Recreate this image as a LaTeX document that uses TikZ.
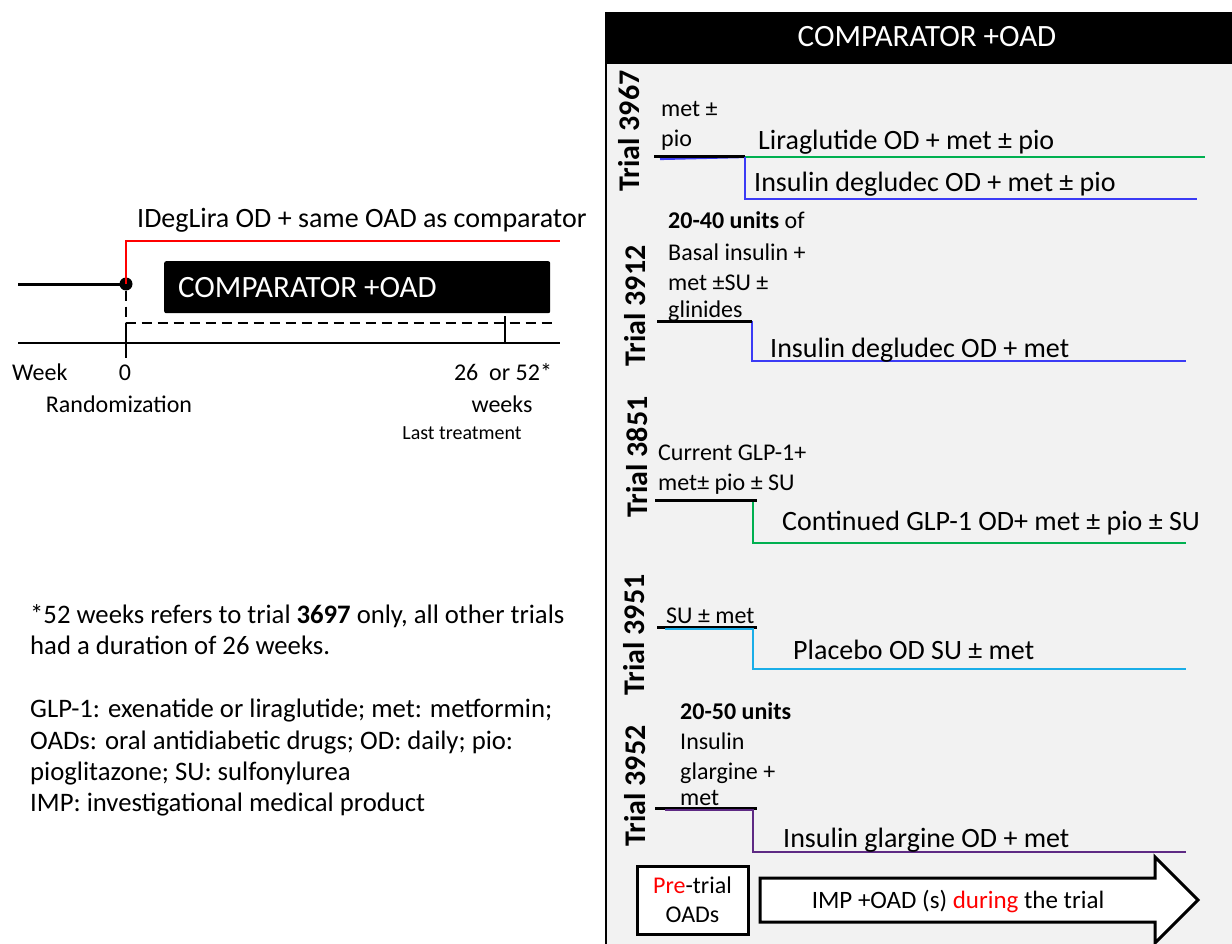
\documentclass[tikz,border=0pt]{standalone}
\usepackage{fontspec}
\setmainfont{Carlito}
\definecolor{panelgray}{HTML}{F2F2F2}
\definecolor{tgreen}{HTML}{00B050}
\definecolor{tblue}{HTML}{3B3BF5}
\definecolor{tcyan}{HTML}{1AAEE8}
\definecolor{tpurple}{HTML}{5E2A84}
\begin{document}
\begin{tikzpicture}[x=1pt,y=-1pt,
  t/.style={anchor=west,inner sep=0pt,text height=0.65em,text depth=0pt,yshift=-5pt},
  tc/.style={anchor=center,inner sep=0pt,text height=0.65em,text depth=0pt,yshift=-5pt},
  f20/.style={font=\fontsize{20}{24}\selectfont},
  f24/.style={font=\fontsize{24}{29}\selectfont},
  f26/.style={font=\fontsize{26.7}{31}\selectfont},
  f28/.style={font=\fontsize{28}{33}\selectfont},
  f30/.style={font=\fontsize{31}{36}\selectfont},
  trial/.style={rotate=90,inner sep=0pt,text height=0.65em,text depth=0pt,font=\bfseries\fontsize{30}{36}\selectfont},
  pre/.style={line width=3pt,black},
  stepline/.style={line width=2.2pt}]
\path[use as bounding box] (0,0) rectangle (1232,944);
\fill[white] (0,0) rectangle (1232,944);

% ---------------- left timeline ----------------
\node[t,f28] (title) at (137,219) {IDegLira OD + same OAD as comparator};
\node[circle,fill=black,minimum size=13pt,inner sep=0pt] (rand) at (126,284) {};
\coordinate (start) at (18,284);
\coordinate (redup) at (126,241);
\coordinate (redend) at (560,241);
\draw[line width=3pt] (start) -- (rand.center);
\draw[red,line width=2.5pt] (rand.center) -- (redup) -- (redend);
\node[fill=black,rounded corners=2pt,anchor=north west,inner sep=0pt,minimum width=386pt,minimum height=52pt] (cbox) at (164,261) {};
\node[t,f30,text=white] (ctext) at (178,289) {COMPARATOR +OAD};
\coordinate (dcorner) at (126,323);
\coordinate (dend) at (556,323);
\draw[line width=2pt,dash pattern=on 10pt off 6pt] (rand.south) -- (dcorner) -- (dend);
\coordinate (ax0) at (18,343);
\coordinate (ax1) at (560,343);
\draw[line width=1.2pt] (ax0) -- (ax1);
\coordinate (tk0a) at (126,323);
\coordinate (tk0b) at (126,358);
\draw[line width=1.2pt] (tk0a) -- (tk0b);
\coordinate (tk1a) at (505,316);
\coordinate (tk1b) at (505,343);
\draw[line width=1.2pt] (tk1a) -- (tk1b);
\node[t,f24] (week) at (12,372) {Week};
\node[tc,f24] (zero) at (125,372) {0};
\node[tc,f24] (randlbl) at (119,404) {Randomization};
\node[tc,f24] (w26) at (503,372) {26\ \ or 52*};
\node[tc,f24] (weeks) at (502,404) {weeks};
\node[tc,f20] (last) at (462,431) {Last treatment};

% ---------------- footnotes ----------------
\node[t,f26] (n1) at (30,615) {*52 weeks refers to trial \textbf{3697} only, all other trials};
\node[t,f26] (n2) at (30,646) {had a duration of 26 weeks.};
\node[t,f26] (n3) at (30,709) {GLP-1: exenatide or liraglutide; met: metformin;};
\node[t,f26] (n4) at (30,741) {OADs: oral antidiabetic drugs; OD: daily; pio:};
\node[t,f26] (n5) at (30,772) {pioglitazone; SU: sulfonylurea};
\node[t,f26] (n6) at (30,803) {IMP: investigational medical product};

% ---------------- right panel ----------------
\fill[panelgray] (606,64) rectangle (1232,944);
\node[fill=black,anchor=north west,inner sep=0pt,minimum width=627pt,minimum height=52pt] (head) at (605,12) {};
\node[tc,f30,text=white] (headtext) at (927,38) {COMPARATOR +OAD};
\draw[line width=1.5pt] (606,12) -- (606,944);

% Trial 3967
\node[trial] (tr1) at (636,131) {Trial 3967};
\node[t,f24] (a1) at (661,108) {met ±};
\node[t,f24] (a2) at (661,138) {pio};
\coordinate (p1a) at (654,157); \coordinate (p1b) at (745,157);
\coordinate (p1c) at (1205,157); \coordinate (p1d) at (745,199); \coordinate (p1e) at (1197,199);
\draw[tblue,stepline] (660,159) -- (p1b);
\draw[pre] (p1a) -- (p1b);
\draw[tgreen,stepline] (p1b) -- (p1c);
\draw[tblue,stepline] (p1b) -- (p1d) -- (p1e);
\node[t,f28] (l1) at (758,141) {Liraglutide OD + met ± pio};
\node[t,f28] (l2) at (754,183) {Insulin degludec OD + met ± pio};

% Trial 3912
\node[trial] (tr2) at (642,306) {Trial 3912};
\node[t,f24] (b1) at (668,220) {\textbf{20-40 units} of};
\node[t,f24] (b2) at (668,252) {Basal insulin +};
\node[t,f24] (b3) at (668,282) {met ±SU ±};
\node[t,f24] (b4) at (668,309) {glinides};
\coordinate (p2a) at (657,321); \coordinate (p2b) at (752,321);
\coordinate (p2c) at (752,361); \coordinate (p2d) at (1186,361);
\draw[tblue,stepline] (p2b) -- (p2c) -- (p2d);
\draw[pre] (p2a) -- (p2b);
\node[t,f28] (l3) at (770,349) {Insulin degludec OD + met};

% Trial 3851
\node[trial] (tr3) at (644,457) {Trial 3851};
\node[t,f24] (c1) at (658,452) {Current GLP-1+};
\node[t,f24] (c2) at (658,482) {met± pio ± SU};
\coordinate (p3a) at (655,500); \coordinate (p3b) at (757,500);
\coordinate (p3c) at (753,500); \coordinate (p3d) at (753,543); \coordinate (p3e) at (1186,543);
\draw[tgreen,stepline] (p3c) -- (p3d) -- (p3e);
\draw[pre] (p3a) -- (p3b);
\node[t,f28] (l4) at (782,522) {Continued GLP-1 OD+ met ± pio ± SU};

% Trial 3951
\node[trial] (tr4) at (641,635) {Trial 3951};
\node[t,f24] (d1) at (666,615) {SU ± met};
\coordinate (p4a) at (657,627); \coordinate (p4b) at (757,627);
\coordinate (p4s) at (665,629); \coordinate (p4c) at (753,629); \coordinate (p4d) at (753,669); \coordinate (p4e) at (1186,669);
\draw[pre] (p4a) -- (p4b);
\draw[tcyan,stepline] (p4s) -- (p4c) -- (p4d) -- (p4e);
\node[t,f28] (l5) at (793,651) {Placebo OD SU ± met};

% Trial 3952
\node[trial] (tr5) at (642,786) {Trial 3952};
\node[t,f24] (e1) at (680,711) {\textbf{20-50 units}};
\node[t,f24] (e2) at (680,741) {Insulin};
\node[t,f24] (e3) at (680,771) {glargine +};
\node[t,f24] (e4) at (680,797) {met};
\coordinate (p5a) at (655,808); \coordinate (p5b) at (757,808);
\coordinate (p5s) at (665,810); \coordinate (p5c) at (753,810); \coordinate (p5d) at (753,852); \coordinate (p5e) at (1186,852);
\draw[pre] (p5a) -- (p5b);
\draw[tpurple,stepline] (p5s) -- (p5c) -- (p5d) -- (p5e);
\node[t,f28] (l6) at (783,839) {Insulin glargine OD + met};

% bottom legend
\node[draw=black,line width=3pt,fill=white,minimum width=111pt,minimum height=68pt,inner sep=0pt,
      align=center,font=\fontsize{24}{29}\selectfont] (prebox) at (692.5,900)
      {\textcolor{red}{Pre}-trial\\OADs};
\draw[line width=3pt,fill=white,line join=miter]
  (760,878) -- (1155,878) -- (1155,857) -- (1198,900) -- (1155,943) -- (1155,922) -- (760,922) -- cycle;
\node[tc,font=\fontsize{25}{30}\selectfont] (imp) at (958,900) {IMP +OAD (s) \textcolor{red}{during} the trial};
\end{tikzpicture}
\end{document}
